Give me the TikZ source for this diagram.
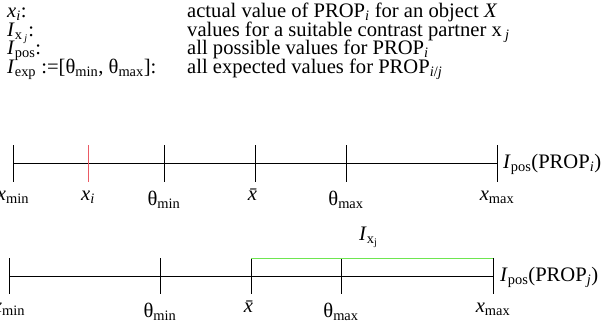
\documentclass[tikz,border=0pt]{standalone}
\usepackage{fontspec}
\setmainfont{Liberation Serif}
\definecolor{tickred}{RGB}{235,90,100}
\definecolor{rangegreen}{RGB}{110,230,80}
\newcommand{\vv}[1]{\textit{#1}}
\newcommand{\sbs}[1]{\textsubscript{#1}}
\begin{document}
\begin{tikzpicture}[x=1pt,y=-1pt,
  txt/.style={anchor=base west,inner sep=0pt,text height=13.5pt,text depth=3.5pt,font=\fontsize{20.6}{20}\selectfont},
  lab/.style={anchor=base,inner sep=0pt,font=\fontsize{20.6}{20}\selectfont},
  axis/.style={line width=0.8pt,black},
  tk/.style={line width=0.8pt,black}]
\useasboundingbox (0,0) rectangle (608,325);
% legend
\node[txt] (l1) at (7,17.5) {\vv{x}\sbs{\vv{i}}:};
\node[txt] (l2) at (7,36) {\vv{I}\sbs{x\,\sbs{\vv{j}}}:};
\node[txt] (l3) at (7,54.5) {\vv{I}\sbs{pos}:};
\node[txt] (l4) at (7,73) {\vv{I}\sbs{exp} :=[θ\sbs{min}, θ\sbs{max}]:};
\node[txt] (r1) at (187,17.5) {actual value of PROP\sbs{\vv{i}} for an object \vv{X}};
\node[txt] (r2) at (187,36) {values for a suitable contrast partner x\,\sbs{\vv{j}}};
\node[txt] (r3) at (187,54.5) {all possible values for PROP\sbs{\vv{i}}};
\node[txt] (r4) at (187,73) {all expected values for PROP\sbs{\vv{i}/\vv{j}}};
% line 1
\foreach \n/\x in {a/13,b/88,c/164,d/255,e/346,f/497}{
  \coordinate (t1\n) at (\x,163);
  \coordinate (t1\n u) at (\x,145);
  \coordinate (t1\n d) at (\x,182);
}
\draw[axis] (t1a) -- (t1f);
\foreach \n in {a,c,d,e,f}{\draw[tk] (t1\n u) -- (t1\n d);}
\draw[tk,tickred] (t1bu) -- (t1bd);
\node[lab] (x1min) at (13,200) {\vv{x}\sbs{min}};
\node[lab] (x1i) at (88,200) {\vv{x}\sbs{\vv{i}}};
\node[lab] (th1min) at (164,205) {θ\sbs{min}};
\node[lab] (xb1) at (255,200) {\vv{\=x}};
\node[lab] (th1max) at (346,205) {θ\sbs{max}};
\node[lab] (x1max) at (497,200) {\vv{x}\sbs{max}};
\node[txt] (ip1) at (503,168) {\vv{I}\sbs{pos}(PROP\sbs{\vv{i}})};
% line 2
\foreach \n/\x in {a/9,c/160,d/251,e/341,f/493}{
  \coordinate (t2\n) at (\x,276);
  \coordinate (t2\n u) at (\x,258);
  \coordinate (t2\n d) at (\x,294);
}
\draw[axis] (t2a) -- (t2f);
\foreach \n in {a,c,d,e,f}{\draw[tk] (t2\n u) -- (t2\n d);}
\draw[line width=0.9pt,rangegreen] (t2du) -- (t2fu);
\node[lab] (x2min) at (9,312) {\vv{x}\sbs{min}};
\node[lab] (th2min) at (160,317) {θ\sbs{min}};
\node[lab] (xb2) at (251,312) {\vv{\=x}};
\node[lab] (th2max) at (341,317) {θ\sbs{max}};
\node[lab] (x2max) at (493,312) {\vv{x}\sbs{max}};
\node[txt] (ip2) at (500,281) {\vv{I}\sbs{pos}(PROP\sbs{\vv{j}})};
\node[txt] (ixj) at (359,240) {\vv{I}\sbs{x\sbs{j}}};
\end{tikzpicture}
\end{document}
